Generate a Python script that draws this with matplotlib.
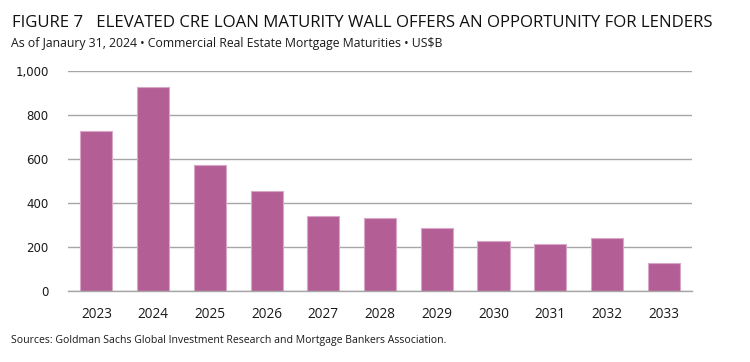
import matplotlib
matplotlib.use("Agg")
import matplotlib.pyplot as plt

years = ["2023", "2024", "2025", "2026", "2027", "2028", "2029", "2030", "2031", "2032", "2033"]
maturities = [728, 930, 573, 457, 342, 335, 289, 227, 214, 244, 129]
yticks = [0, 200, 400, 600, 800, 1000]
ytick_labels = ["0", "200", "400", "600", "800", "1,000"]

title = "FIGURE 7   ELEVATED CRE LOAN MATURITY WALL OFFERS AN OPPORTUNITY FOR LENDERS"
subtitle = "As of Janaury 31, 2024 \u2022 Commercial Real Estate Mortgage Maturities \u2022 US$B"
source = "Sources: Goldman Sachs Global Investment Research and Mortgage Bankers Association."

fig = plt.figure(figsize=(7.5, 3.62), dpi=100)
ax = fig.add_axes([0.0907, 0.1953, 0.832, 0.6077])

x = list(range(len(years)))
ax.bar(x, maturities, width=0.565, color="#B35F96", edgecolor="#D8A6C6", linewidth=0.8, zorder=3)

ax.set_xlim(-0.5, len(years) - 0.5)
ax.set_ylim(0, 1000)
ax.set_yticks(yticks)
ax.set_yticklabels(ytick_labels, fontsize=8.5, family="DejaVu Sans", color="#1a1a1a")
ax.set_xticks(x)
ax.set_xticklabels(years, fontsize=9.8, family="Open Sans", fontstretch="semi-condensed", color="#1a1a1a")
ax.tick_params(axis="both", length=0)
ax.tick_params(axis="y", pad=14)
ax.tick_params(axis="x", pad=11)
ax.grid(axis="y", color="#A6A6A6", linewidth=1.0, zorder=0)
for s in ["top", "right", "left"]:
    ax.spines[s].set_visible(False)
ax.spines["bottom"].set_color("#A6A6A6")
ax.spines["bottom"].set_linewidth(1.0)
ax.spines["bottom"].set_zorder(4)

fig.text(12 / 750, 1 - 23 / 362, title, fontsize=12.1, family="Open Sans", fontweight="medium",
         color="#111111", va="center", ha="left")
fig.text(11 / 750, 1 - 43 / 362, subtitle, fontsize=8.8, family="Open Sans", fontstretch="semi-condensed",
         color="#1a1a1a", va="center", ha="left")
fig.text(11 / 750, 1 - 341 / 362, source, fontsize=7.6, family="Open Sans", fontstretch="semi-condensed",
         color="#1a1a1a", va="center", ha="left")

fig.savefig("out.png", dpi=100)
